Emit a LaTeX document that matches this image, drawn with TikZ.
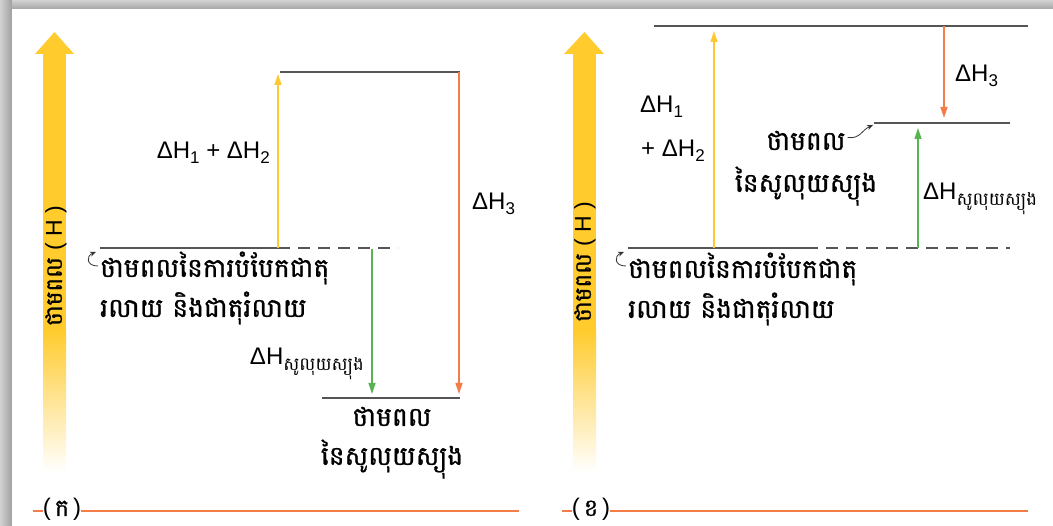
\documentclass[tikz,border=0pt]{standalone}
\usepackage{fontspec}
\setmainfont{Liberation Sans}
\newfontfamily\km[Script=Khmer]{Battambang}
\newfontfamily\kmb[Script=Khmer, FakeBold=1]{Battambang}
\usetikzlibrary{arrows.meta}
\definecolor{axisyellow}{RGB}{255,203,45}
\definecolor{lvlgray}{RGB}{85,85,85}
\definecolor{arrorange}{RGB}{242,125,72}
\definecolor{arrgreen}{RGB}{88,180,80}
\definecolor{arryellow}{RGB}{255,200,50}
\newcommand\mysub[1]{\raisebox{-0.2em}{\fontsize{17}{17}\selectfont #1}}
\newcommand\mysubk[1]{\raisebox{-0.25em}{\km\fontsize{18}{18}\selectfont #1}}
\tikzset{
  level/.style={draw=lvlgray, line width=1.4pt},
  dlevel/.style={draw=lvlgray, line width=1.4pt, dash pattern=on 12pt off 8pt},
  tipa/.style={-{Triangle[length=11pt,width=7pt]}, line width=1.4pt},
  lat/.style={font=\fontsize{24}{28}\selectfont, inner sep=0pt},
  kmlab/.style={font=\kmb\fontsize{26.5}{32}\selectfont, inner sep=0pt},
  axlab/.style={font=\fontsize{23}{26}\selectfont, inner sep=0pt, rotate=90},
  pnl/.style={font=\fontsize{24}{26}\selectfont, inner sep=0pt, text height=16pt, text depth=4pt},
  sep/.style={draw=arrorange, line width=1.8pt},
  curl/.style={-{Stealth[length=6pt,width=5pt]}, line width=0.8pt, draw=black!80},
}
\begin{document}
\begin{tikzpicture}[x=1pt,y=-1pt]
\useasboundingbox (0,0) rectangle (1053,526);
% frame shadow
\fill[gray!60] (0,0) rectangle (1053,526);
\shade[left color=gray!35, right color=gray!75] (0,0) rectangle (12,526);
\shade[top color=gray!35, bottom color=gray!70] (12,0) rectangle (1053,9);
\fill[white] (12,9) rectangle (1053,526);

% ================= panel (k) =================
% energy axis
\fill[axisyellow] (43,53) rectangle (66,331);
\shade[top color=axisyellow, bottom color=white] (43,330) rectangle (66,472);
\fill[axisyellow] (35,54) -- (54.5,32) -- (74,54) -- cycle;
\node[axlab] (axA) at (56,266) {{\kmb ថាមពល} ( H )};

\coordinate (rA1) at (100,248);
\coordinate (rA2) at (278,248);
\coordinate (rA3) at (398,248);
\coordinate (tA1) at (280,72);
\coordinate (tA2) at (460,72);
\coordinate (pA1) at (322,398);
\coordinate (pA2) at (460,398);
\draw[level] (rA1) -- (rA2);
\draw[dlevel] (rA2) -- (rA3);
\draw[level] (tA1) -- (tA2);
\draw[level] (pA1) -- (pA2);

\coordinate (yA0) at (278,248);
\coordinate (yA1) at (278,74);
\draw[tipa, draw=arryellow] (yA0) -- (yA1);
\coordinate (oA0) at (459,72);
\coordinate (oA1) at (459,394);
\draw[tipa, draw=arrorange] (oA0) -- (oA1);
\coordinate (gA0) at (372,249);
\coordinate (gA1) at (372,394);
\draw[tipa, draw=arrgreen, line width=1.2pt] (gA0) -- (gA1);

\node[lat, anchor=base east] (dh12A) at (270,159) {ΔH\mysub{1} + ΔH\mysub{2}};
\node[lat, anchor=base west] (dh3A) at (472,210) {ΔH\mysub{3}};
\node[lat, anchor=base east] (dhsA) at (364,365) {ΔH\mysubk{សូលុយស្យុង}};
\node[kmlab, anchor=base] (solA1) at (392,426) {ថាមពល};
\node[kmlab, anchor=base] (solA2) at (392,465) {នៃសូលុយស្យុង};
\node[kmlab, anchor=base west] (reactA1) at (100,277) {ថាមពលនៃការបំបែកជាតុ};
\node[kmlab, anchor=base west] (reactA2) at (100,317) {រលាយ និងជាតុរំលាយ};
\coordinate (cA0) at (98,266);
\coordinate (cA1) at (96,252);
\draw[curl] (cA0) .. controls (86,266) and (86,256) .. (cA1);

\node[pnl, anchor=base] (labA) at (62,516) {(\,{\kmb ក}\,)};
\coordinate (sA0) at (33,511);
\coordinate (sA1) at (519,511);
\draw[sep] (sA0) -- (sA0 -| labA.west) (sA1 -| labA.east) -- (sA1);

% ================= panel (kh) =================
\fill[axisyellow] (573,53) rectangle (596,331);
\shade[top color=axisyellow, bottom color=white] (573,330) rectangle (596,472);
\fill[axisyellow] (564,54) -- (584.5,32) -- (604,54) -- cycle;
\node[axlab] (axB) at (585,262) {{\kmb ថាមពល} ( H )};

\coordinate (rB1) at (628,248);
\coordinate (rB2) at (806,248);
\coordinate (rB3) at (1010,248);
\coordinate (tB1) at (654,26);
\coordinate (tB2) at (1028,26);
\coordinate (mB1) at (874,123);
\coordinate (mB2) at (1010,123);
\draw[level] (rB1) -- (rB2);
\draw[dlevel] (rB2) -- (rB3);
\draw[level] (tB1) -- (tB2);
\draw[level] (mB1) -- (mB2);

\coordinate (yB0) at (714,248);
\coordinate (yB1) at (714,31);
\draw[tipa, draw=arryellow, line width=1.2pt] (yB0) -- (yB1);
\coordinate (oB0) at (944,26);
\coordinate (oB1) at (944,118);
\draw[tipa, draw=arrorange] (oB0) -- (oB1);
\coordinate (gB0) at (918,248);
\coordinate (gB1) at (918,128);
\draw[tipa, draw=arrgreen, line width=1.2pt] (gB0) -- (gB1);

\node[lat, anchor=base west] (dh1B) at (640,113) {ΔH\mysub{1}};
\node[lat, anchor=base west] (dh2B) at (641,157) {+ ΔH\mysub{2}};
\node[lat, anchor=base west] (dh3B) at (955,82) {ΔH\mysub{3}};
\node[lat, anchor=base west] (dhsB) at (923,200) {ΔH\mysubk{សូលុយស្យុង}};
\node[kmlab, anchor=base] (solB1) at (806,150) {ថាមពល};
\node[kmlab, anchor=base] (solB2) at (806,192) {នៃសូលុយស្យុង};
\node[kmlab, anchor=base west] (reactB1) at (628,278) {ថាមពលនៃការបំបែកជាតុ};
\node[kmlab, anchor=base west] (reactB2) at (628,318) {រលាយ និងជាតុរំលាយ};
\coordinate (cB0) at (626,266);
\coordinate (cB1) at (624,252);
\draw[curl] (cB0) .. controls (614,266) and (614,256) .. (cB1);
\coordinate (cB3) at (873,125);
\draw[curl] (solB1.east) ++(2,-3) .. controls +(12,2) and (862,130) .. (cB3);

\node[pnl, anchor=base] (labB) at (591,516) {(\,{\kmb ខ}\,)};
\coordinate (sB0) at (562,511);
\coordinate (sB1) at (1028,511);
\draw[sep] (sB0) -- (sB0 -| labB.west) (sB1 -| labB.east) -- (sB1);
\end{tikzpicture}
\end{document}
